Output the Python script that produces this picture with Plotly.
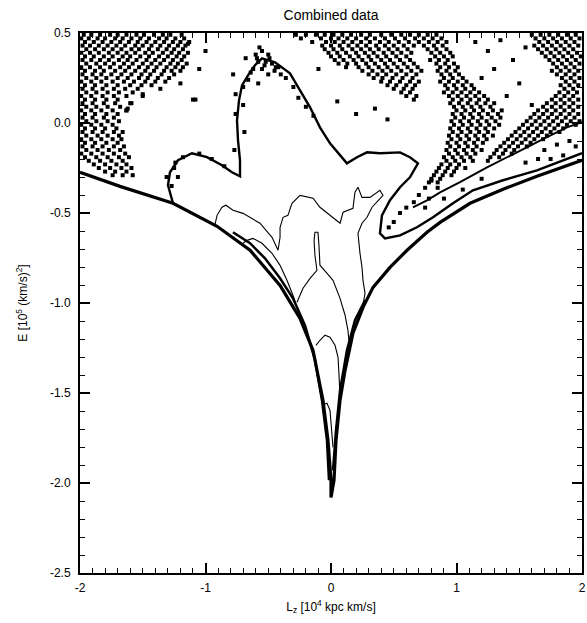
import plotly.graph_objects as go

# ---------------- data (Lz in 1e4 kpc km/s, E in 1e5 (km/s)^2) ----------------
x_tick_vals = [-2, -1, 0, 1, 2]
x_tick_text = ["-2", "-1", "0", "1", "2"]
y_tick_vals = [-2.5, -2.0, -1.5, -1.0, -0.5, 0.0, 0.5]
y_tick_text = ["-2.5", "-2.0", "-1.5", "-1.0", "-0.5", "0.0", "0.5"]

# lower envelope (circular-orbit limit)
env_x = [-2.0, -1.681, -1.259, -0.908, -0.645, -0.406, -0.247, -0.143, -0.064, -0.024, 0.0, 0.0,
         0.024, 0.04, 0.072, 0.112, 0.175, 0.255, 0.335, 0.47, 0.606, 0.765, 0.869, 1.108, 1.371, 1.641, 2.0]
env_y = [-0.274, -0.352, -0.446, -0.574, -0.707, -0.902, -1.085, -1.263, -1.54, -1.763, -1.985, -2.08,
         -1.985, -1.763, -1.54, -1.374, -1.168, -1.024, -0.913, -0.802, -0.707, -0.607, -0.552, -0.446, -0.368, -0.296, -0.207]

inner_l_x = [-0.781, -0.645, -0.526, -0.406, -0.303, -0.207, -0.127, -0.072, -0.032, -0.016]
inner_l_y = [-0.607, -0.668, -0.752, -0.863, -0.974, -1.124, -1.318, -1.54, -1.763, -1.985]
inner_r_x = [0.016, 0.04, 0.072, 0.127, 0.191, 0.271]
inner_r_y = [-1.93, -1.707, -1.485, -1.263, -1.096, -0.985]

# outer density contour (edge of empty region)
c0_x = [-1.259, -1.299, -1.283, -1.219, -1.108, -0.988, -0.869, -0.789, -0.725, -0.725, -0.741, -0.749,
        -0.733, -0.709, -0.661, -0.606, -0.55, -0.446, -0.327, -0.247, -0.167, -0.088, -0.008, 0.127,
        0.207, 0.287, 0.39, 0.55, 0.629, 0.693, 0.629, 0.55, 0.47, 0.406, 0.39, 0.43, 0.55, 0.685,
        0.813, 0.972, 1.131, 1.371, 1.641, 2.0]
c0_y = [-0.446, -0.346, -0.274, -0.207, -0.168, -0.19, -0.235, -0.274, -0.296, -0.207, -0.096, 0.015,
        0.126, 0.209, 0.265, 0.321, 0.359, 0.337, 0.276, 0.182, 0.087, -0.024, -0.113, -0.224,
        -0.19, -0.163, -0.168, -0.163, -0.19, -0.224, -0.302, -0.357, -0.429, -0.513, -0.613, -0.641, -0.624, -0.579,
        -0.524, -0.446, -0.374, -0.318, -0.263, -0.168]

u_x = [0.653, 0.765, 0.869, 1.028, 1.243, 1.506, 1.721, 1.88, 2.0]
u_y = [-0.469, -0.43, -0.385, -0.329, -0.246, -0.152, -0.079, -0.024, 0.004]

c1_x = [-0.924, -0.908, -0.869, -0.837, -0.781, -0.701, -0.566, -0.47, -0.422, -0.406, -0.406, -0.382,
        -0.343, -0.311, -0.247, -0.143, -0.088, 0.016, 0.072, 0.096, 0.175, 0.191, 0.215, 0.247, 0.311,
        0.39, 0.414, 0.327, 0.287, 0.247, 0.215, 0.231, 0.247, 0.255, 0.271, 0.255]
c1_y = [-0.563, -0.513, -0.468, -0.457, -0.485, -0.502, -0.557, -0.635, -0.707, -0.635, -0.579, -0.524,
        -0.513, -0.446, -0.402, -0.418, -0.468, -0.524, -0.557, -0.496, -0.474, -0.385, -0.357, -0.413, -0.413,
        -0.374, -0.402, -0.468, -0.524, -0.557, -0.613, -0.724, -0.802, -0.874, -0.946, -1.013]

c2_x = [-0.701, -0.669, -0.622, -0.55, -0.47, -0.406, -0.351, -0.303, -0.263]
c2_y = [-0.668, -0.652, -0.641, -0.668, -0.724, -0.791, -0.874, -0.957, -1.041]

c3_x = [-0.271, -0.223, -0.167, -0.112, -0.128, -0.135, -0.128, -0.104, -0.096, -0.088, -0.04, 0.016,
        0.072, 0.112, 0.135, 0.151]
c3_y = [-0.996, -0.918, -0.863, -0.818, -0.735, -0.652, -0.607, -0.607, -0.679, -0.79, -0.829, -0.874,
        -0.974, -1.068, -1.152, -1.263]

c4_x = [-0.12, -0.088, -0.048, -0.008, 0.032, 0.056, 0.064, 0.072]
c4_y = [-1.235, -1.207, -1.179, -1.19, -1.235, -1.302, -1.402, -1.524]

c5_x = [-0.072, -0.032, -0.008, 0.008, 0.016]
c5_y = [-1.568, -1.557, -1.596, -1.707, -1.802]

# scattered particles, grouped by region: rows of (E, [Lz ...])
tl_rows = [
    (0.49, [-1.97, -1.91, -1.84, -1.76, -1.7, -1.63, -1.55, -1.49, -1.41, -1.34, -1.28, -1.19]),
    (0.47, [-1.99, -1.93, -1.86, -1.8, -1.72, -1.66, -1.59, -1.52, -1.45, -1.37, -1.31, -1.24, -1.17]),
    (0.45, [-1.96, -1.89, -1.82, -1.75, -1.68, -1.61, -1.54, -1.47, -1.4, -1.33, -1.26, -1.2, -1.13]),
    (0.43, [-1.98, -1.92, -1.85, -1.78, -1.71, -1.64, -1.56, -1.5, -1.43, -1.36, -1.29, -1.22, -1.16]),
    (0.41, [-1.95, -1.88, -1.81, -1.74, -1.67, -1.59, -1.53, -1.45, -1.38, -1.31, -1.25, -1.18]),
    (0.39, [-1.99, -1.92, -1.85, -1.77, -1.7, -1.63, -1.56, -1.48, -1.42, -1.34, -1.27, -1.21, -1.14]),
    (0.37, [-1.96, -1.89, -1.81, -1.74, -1.66, -1.6, -1.52, -1.45, -1.37, -1.3, -1.23, -1.17]),
    (0.35, [-1.98, -1.91, -1.84, -1.77, -1.69, -1.62, -1.55, -1.47, -1.4, -1.33, -1.26, -1.19]),
    (0.33, [-1.95, -1.87, -1.8, -1.73, -1.65, -1.58, -1.5, -1.43, -1.36, -1.28, -1.22, -1.15]),
    (0.31, [-1.99, -1.92, -1.84, -1.76, -1.68, -1.61, -1.53, -1.46, -1.39, -1.31, -1.24, -1.18]),
    (0.29, [-1.96, -1.88, -1.81, -1.72, -1.64, -1.56, -1.48, -1.41, -1.33, -1.27, -1.2]),
    (0.27, [-1.98, -1.9, -1.83, -1.75, -1.67, -1.59, -1.51, -1.44, -1.35, -1.25]),
    (0.25, [-1.95, -1.87, -1.79, -1.7, -1.62, -1.53, -1.46, -1.38, -1.29]),
    (0.23, [-1.99, -1.91, -1.83, -1.74, -1.65, -1.57, -1.48, -1.4, -1.32]),
    (0.21, [-1.96, -1.88, -1.79, -1.7, -1.6, -1.51, -1.43]),
    (0.19, [-1.98, -1.9, -1.82, -1.73, -1.64, -1.54, -1.36]),
    (0.17, [-1.95, -1.87, -1.78, -1.69, -1.58]),
    (0.15, [-1.99, -1.91, -1.82, -1.73, -1.63, -1.5]),
    (0.13, [-1.96, -1.88, -1.79, -1.7]),
    (0.11, [-1.98, -1.9, -1.81, -1.72, -1.6]),
    (0.09, [-1.95, -1.87, -1.78, -1.68]),
    (0.07, [-1.99, -1.91, -1.83, -1.74, -1.63]),
    (0.05, [-1.96, -1.88, -1.79, -1.7]),
    (0.03, [-1.98, -1.9, -1.81, -1.73]),
    (0.01, [-1.95, -1.87, -1.78, -1.69]),
    (-0.01, [-1.99, -1.91, -1.83, -1.74]),
    (-0.03, [-1.96, -1.88, -1.8, -1.71]),
    (-0.05, [-1.98, -1.9, -1.82, -1.73, -1.66]),
    (-0.07, [-1.95, -1.86, -1.78, -1.69]),
    (-0.09, [-1.99, -1.91, -1.83, -1.74, -1.67]),
    (-0.11, [-1.96, -1.88, -1.79, -1.7]),
    (-0.13, [-1.98, -1.9, -1.82, -1.73, -1.65]),
    (-0.15, [-1.95, -1.86, -1.77, -1.68]),
    (-0.17, [-1.99, -1.91, -1.82, -1.73, -1.64]),
    (-0.19, [-1.96, -1.87, -1.78, -1.69, -1.61]),
    (-0.21, [-1.93, -1.84, -1.75, -1.66]),
    (-0.23, [-1.89, -1.8, -1.71, -1.63]),
    (-0.25, [-1.85, -1.76, -1.67, -1.59]),
    (-0.27, [-1.8, -1.72, -1.63]),
    (-0.29, [-1.74, -1.66, -1.58]),
]
tm_rows = [
    (0.49, [-0.28, -0.2, -0.12, -0.05, 0.02, 0.09, 0.16, 0.24, 0.31, 0.4, 0.48, 0.56, 0.63, 0.7, 0.77, 0.84]),
    (0.47, [-0.24, -0.08, 0.0, 0.06, 0.13, 0.2, 0.28, 0.35, 0.43, 0.51, 0.59, 0.67, 0.74, 0.81, 0.88]),
    (0.45, [-0.15, -0.04, 0.03, 0.1, 0.17, 0.24, 0.31, 0.39, 0.46, 0.54, 0.62, 0.7, 0.78, 0.85, 0.92]),
    (0.43, [-0.07, 0.0, 0.07, 0.14, 0.21, 0.28, 0.36, 0.43, 0.5, 0.58, 0.66, 0.74, 0.82, 0.89]),
    (0.41, [-0.05, 0.02, 0.09, 0.17, 0.24, 0.31, 0.38, 0.46, 0.53, 0.61, 0.77, 0.84, 0.92]),
    (0.39, [-0.02, 0.05, 0.12, 0.2, 0.27, 0.34, 0.42, 0.49, 0.56, 0.64, 0.8, 0.87, 0.95]),
    (0.37, [0.0, 0.07, 0.15, 0.22, 0.3, 0.37, 0.44, 0.52, 0.6, 0.83, 0.9, 0.97]),
    (0.35, [0.03, 0.1, 0.18, 0.25, 0.32, 0.4, 0.47, 0.55, 0.63, 0.79, 0.86, 0.93]),
    (0.33, [0.06, 0.13, 0.2, 0.28, 0.35, 0.43, 0.5, 0.58, 0.66, 0.84, 0.91, 0.98]),
    (0.31, [0.12, 0.22, 0.3, 0.38, 0.45, 0.53, 0.61, 0.69, 0.87, 0.94, 1.01]),
    (0.29, [0.25, 0.33, 0.41, 0.48, 0.56, 0.64, 0.72, 0.85, 0.92, 0.99]),
    (0.27, [0.3, 0.37, 0.44, 0.52, 0.6, 0.68, 0.88, 0.95, 1.02]),
    (0.25, [0.34, 0.41, 0.49, 0.57, 0.65, 0.9, 0.97, 1.05]),
    (0.23, [0.4, 0.47, 0.55, 0.63, 0.7, 0.87, 0.94, 1.01, 1.08]),
    (0.21, [0.45, 0.52, 0.6, 0.67, 0.91, 0.98, 1.05, 1.12]),
    (0.19, [0.5, 0.58, 0.65, 0.93, 1.0, 1.07, 1.14]),
    (0.17, [0.56, 0.63, 0.9, 0.97, 1.04, 1.11, 1.18]),
    (0.15, [0.6, 0.68, 0.94, 1.01, 1.08, 1.15, 1.22]),
    (0.13, [0.66, 0.97, 1.04, 1.11, 1.18, 1.25]),
    (0.11, [0.95, 1.02, 1.09, 1.16, 1.23, 1.3]),
    (0.09, [0.98, 1.05, 1.12, 1.19, 1.27]),
    (0.07, [1.0, 1.07, 1.14, 1.21, 1.29, 1.36]),
    (0.05, [0.97, 1.04, 1.11, 1.18, 1.25, 1.33]),
    (0.03, [0.99, 1.06, 1.13, 1.2, 1.28, 1.35]),
    (0.01, [0.96, 1.03, 1.1, 1.17, 1.24, 1.31]),
    (-0.01, [0.98, 1.05, 1.12, 1.19, 1.26, 1.34]),
    (-0.03, [0.95, 1.02, 1.09, 1.16, 1.23, 1.3]),
    (-0.05, [0.97, 1.04, 1.11, 1.18, 1.25]),
    (-0.07, [0.94, 1.01, 1.08, 1.15, 1.22, 1.29]),
    (-0.09, [0.96, 1.03, 1.1, 1.17, 1.24]),
    (-0.11, [0.93, 1.0, 1.07, 1.14, 1.21]),
    (-0.13, [0.95, 1.02, 1.09, 1.16]),
    (-0.15, [0.92, 0.99, 1.06, 1.13, 1.2]),
    (-0.17, [0.94, 1.01, 1.08, 1.15]),
    (-0.19, [0.9, 0.97, 1.04, 1.11]),
    (-0.21, [0.92, 0.99, 1.06, 1.13]),
    (-0.23, [0.88, 0.95, 1.02]),
    (-0.25, [0.86, 0.93, 1.0, 1.07]),
    (-0.27, [0.84, 0.91, 0.98]),
    (-0.29, [0.82, 0.89, 0.96]),
    (-0.31, [0.8, 0.87]),
    (-0.33, [0.78, 0.85]),
]
rt_rows = [
    (0.49, [1.6, 1.67, 1.74, 1.81, 1.88, 1.95]),
    (0.47, [1.63, 1.7, 1.77, 1.84, 1.91, 1.98]),
    (0.45, [1.66, 1.73, 1.8, 1.87, 1.94]),
    (0.43, [1.62, 1.69, 1.76, 1.83, 1.9, 1.97]),
    (0.41, [1.65, 1.72, 1.79, 1.86, 1.93]),
    (0.39, [1.68, 1.75, 1.82, 1.89, 1.96]),
    (0.37, [1.71, 1.78, 1.85, 1.92, 1.99]),
    (0.35, [1.74, 1.81, 1.88, 1.95]),
    (0.33, [1.77, 1.84, 1.91, 1.98]),
    (0.31, [1.8, 1.87, 1.94]),
    (0.29, [1.76, 1.83, 1.9, 1.97]),
    (0.27, [1.8, 1.87, 1.94]),
    (0.25, [1.84, 1.91, 1.98]),
    (0.23, [1.87, 1.94]),
    (0.21, [1.83, 1.9, 1.97]),
    (0.19, [1.86, 1.93]),
    (0.17, [1.82, 1.89, 1.96]),
    (0.15, [1.79, 1.86, 1.93]),
    (0.13, [1.76, 1.83, 1.9, 1.97]),
    (0.11, [1.72, 1.79, 1.86, 1.93]),
    (0.09, [1.69, 1.76, 1.83, 1.9, 1.97]),
    (0.07, [1.65, 1.72, 1.79, 1.86, 1.93]),
    (0.05, [1.62, 1.69, 1.76, 1.83, 1.9, 1.97]),
    (0.03, [1.59, 1.66, 1.73, 1.8, 1.87, 1.94]),
    (0.01, [1.56, 1.63, 1.7, 1.77, 1.84, 1.91, 1.98]),
    (-0.01, [1.53, 1.6, 1.67, 1.74, 1.81, 1.88, 1.95]),
    (-0.03, [1.5, 1.57, 1.64, 1.71, 1.78, 1.85]),
    (-0.05, [1.47, 1.54, 1.61, 1.68, 1.75, 1.82]),
    (-0.07, [1.44, 1.51, 1.58, 1.65, 1.72]),
    (-0.09, [1.41, 1.48, 1.55, 1.62, 1.69]),
    (-0.11, [1.38, 1.45, 1.52, 1.59]),
    (-0.13, [1.35, 1.42, 1.49, 1.56]),
    (-0.15, [1.32, 1.39, 1.46]),
    (-0.17, [1.3, 1.37, 1.44]),
    (-0.19, [1.27, 1.34]),
    (-0.21, [1.25]),
]
stray_x = [-1.63, -1.1, -1.5, -1.2, -1.05, -1.0, -1.14, -1.08, -1.62, -1.59,
           -0.7, -0.76, -0.69, -0.77, -0.7, -0.66, -0.78, -0.76, -0.68, -0.64, -0.58,
           -1.25, -1.22, -1.27, -1.18, -1.05, -0.95, -0.85, -1.31, -1.24,
           -0.6, -0.55, -0.5, -0.58, -0.52, -0.47, -0.62, -0.55, -0.45, -0.5, -0.42, -0.57,
           -0.59, -0.53, -0.49, -0.44, -0.4, -0.36, -0.3, -0.26, -0.2, -0.14,
           0.8, 0.75, 0.7, 0.66, 0.6, 0.55, 0.5, 0.46, 0.85, 0.78,
           1.15, 1.25, 1.35, 1.3, 1.45, 1.5, 1.4, 1.55, 1.2, 1.6,
           0.05, 0.2, 0.35, 0.45, -0.1,
           1.7, 1.8, 1.9, 1.95, 1.75, 1.85, 1.65, 1.55, 0.75, 0.9, 1.05, 1.2]
stray_y = [0.07, 0.13, 0.16, 0.22, 0.3, 0.4, 0.44, 0.13, 0.08, 0.11,
           0.1, 0.05, -0.05, -0.15, 0.2, 0.24, 0.27, 0.16, 0.36, 0.28, 0.22,
           -0.25, -0.3, -0.35, -0.19, -0.17, -0.2, -0.24, -0.3, -0.22,
           0.38, 0.4, 0.38, 0.34, 0.34, 0.33, 0.3, 0.3, 0.29, 0.27, 0.31, 0.42,
           0.36, 0.32, 0.36, 0.31, 0.27, 0.25, 0.2, 0.14, 0.09, 0.04,
           -0.32, -0.36, -0.4, -0.44, -0.47, -0.5, -0.55, -0.58, -0.36, -0.42,
           0.45, 0.4, 0.46, 0.3, 0.35, 0.22, 0.15, 0.42, 0.25, 0.1,
           0.12, 0.05, 0.08, 0.02, 0.3,
           -0.15, -0.12, -0.1, -0.13, -0.2, -0.18, -0.2, -0.22, -0.47, -0.42, -0.37, -0.31]

# axis minor tick positions (every 0.1)
x_minor = [round(-2 + 0.1 * i, 1) for i in range(41)]
y_minor = [round(-2.5 + 0.1 * i, 1) for i in range(31)]

# ---------------- figure ----------------
fig = go.Figure()

def rows_to_xy(rows):
    xs, ys = [], []
    for e, lzs in rows:
        for lz in lzs:
            xs.append(lz)
            ys.append(e)
    return xs, ys

mk = dict(color="black", size=4.0, symbol="square", line=dict(width=0))
for rows in (tl_rows, tm_rows, rt_rows):
    xs, ys = rows_to_xy(rows)
    fig.add_trace(go.Scatter(x=xs, y=ys, mode="markers", marker=mk, hoverinfo="skip"))
fig.add_trace(go.Scatter(x=stray_x, y=stray_y, mode="markers", marker=mk, hoverinfo="skip"))

def line(xs, ys, w):
    fig.add_trace(go.Scatter(x=xs, y=ys, mode="lines", line=dict(color="black", width=w), hoverinfo="skip"))

line(c0_x, c0_y, 2.4)
line(u_x, u_y, 2.0)
line(c1_x, c1_y, 1.1)
line(c2_x, c2_y, 1.1)
line(c3_x, c3_y, 1.1)
line(c4_x, c4_y, 1.1)
line(c5_x, c5_y, 1.1)
line(inner_l_x, inner_l_y, 2.5)
line(inner_r_x, inner_r_y, 2.5)
line(env_x, env_y, 3.2)

font = dict(family="Liberation Sans, Arial, sans-serif", size=12, color="black")
axis_common = dict(
    ticks="inside", ticklen=10, tickwidth=1.6, tickcolor="black",
    showline=True, linewidth=2, linecolor="black", mirror="allticks",
    showgrid=False, zeroline=False, tickfont=font, automargin=False,
    layer="above traces", ticklabeloverflow="allow",
)
fig.update_layout(
    width=587, height=623,
    margin=dict(l=80, r=5, t=33, b=50),
    paper_bgcolor="white", plot_bgcolor="white",
    showlegend=False,
    font=font,
    hovermode=False,
    title=dict(text="Combined data", x=0.5, xref="paper", y=1 - 15 / 623, yref="container",
               yanchor="middle", xanchor="center", font=dict(family=font["family"], size=14, color="black")),
    xaxis=dict(range=[-2, 2], tickmode="array", tickvals=x_tick_vals, ticktext=x_tick_text,
               ticklabelstandoff=3,
               minor=dict(tickmode="array", tickvals=x_minor, ticks="inside", ticklen=5,
                          tickwidth=1, tickcolor="black", showgrid=False),
               title=dict(text="L<sub>z</sub> [10<sup>4</sup> kpc km/s]", standoff=8, font=font),
               **axis_common),
    yaxis=dict(range=[-2.5, 0.5], tickmode="array", tickvals=y_tick_vals, ticktext=y_tick_text,
               ticklabelstandoff=5,
               minor=dict(tickmode="array", tickvals=y_minor, ticks="inside", ticklen=5,
                          tickwidth=1, tickcolor="black", showgrid=False),
               title=dict(text="E [10<sup>5</sup> (km/s)<sup>2</sup>]", standoff=20, font=font),
               **axis_common),
)

# remove the default page margin / scrollbars so the figure fills the window exactly
page_css = ("document.documentElement.style.overflow='hidden';"
            "document.body.style.margin='0';document.body.style.overflow='hidden';")
fig.write_html("out.html", post_script=page_css, config={"displayModeBar": False})
